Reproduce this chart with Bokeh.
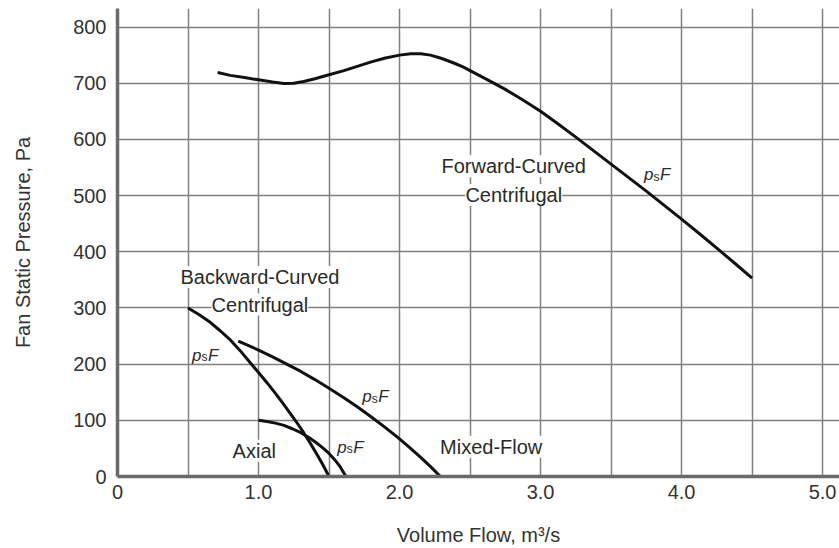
from bokeh.plotting import figure
from bokeh.models import Range1d, FixedTicker, Label, ColumnDataSource
from bokeh.core.properties import value
from bokeh.embed import file_html
from bokeh.resources import INLINE

# ---- data ----
fwd_x = [0.71, 0.8, 0.9, 1.0, 1.1, 1.18, 1.25, 1.32, 1.4, 1.5, 1.6, 1.7, 1.8, 1.9, 2.0, 2.08, 2.15,
         2.22, 2.3, 2.385, 2.45, 2.5, 2.625, 2.75, 2.875, 3.0, 3.125, 3.25, 3.375, 3.5, 3.625, 3.75,
         3.875, 4.0, 4.125, 4.25, 4.375, 4.5]
fwd_y = [719, 714, 710, 706, 702, 699.5, 700, 703, 708, 715, 722, 730, 738, 745, 750, 752.5, 752.5,
         750, 744, 736, 729, 722.5, 706, 689, 670, 650, 627.5, 604, 580, 556, 532, 508,
         483, 458, 432.5, 406.5, 380, 353]

bwd_x = [0.5, 0.58, 0.66, 0.73, 0.8, 0.87, 0.94, 1.0, 1.06, 1.12, 1.18, 1.24, 1.28, 1.32, 1.37, 1.42, 1.46, 1.5]
bwd_y = [300, 288, 274, 259, 243, 224, 203, 185, 167, 148, 128, 107, 93, 78, 58, 37, 19, 0]

mix_x = [0.856, 0.93, 1.0, 1.1, 1.2, 1.3, 1.4, 1.5, 1.6, 1.7, 1.8, 1.9, 2.0, 2.07, 2.15, 2.22, 2.29]
mix_y = [241, 233, 225, 213, 200, 187, 172.5, 157, 141, 124, 106, 87, 67, 52, 34, 17.5, 0]

axl_x = [1.0, 1.06, 1.12, 1.18, 1.24, 1.3, 1.36, 1.41, 1.46, 1.5, 1.54, 1.58, 1.62]
axl_y = [100, 98, 95, 91, 85, 78, 69, 60, 50, 41, 30, 17, 0]

x_ticks = [0, 1, 2, 3, 4, 5]
x_tick_labels = ["0", "1.0", "2.0", "3.0", "4.0", "5.0"]
y_ticks = [0, 100, 200, 300, 400, 500, 600, 700, 800]
x_grid = [0.5, 1.0, 1.5, 2.0, 2.5, 3.0, 3.5, 4.0, 4.5, 5.0]
y_grid = [100, 200, 300, 400, 500, 600, 700, 800]

# curve name labels: (text, x, y)
name_text = ["Forward-Curved", "Centrifugal", "Backward-Curved", "Centrifugal", "Axial", "Mixed-Flow"]
name_x = [2.81, 2.81, 1.01, 1.01, 0.97, 2.65]
name_y = [552, 501, 355, 306, 46, 53]

# p_sF labels: left edge and baseline
psf_x = [0.529, 1.735, 1.558, 3.733]
psf_y = [216, 142, 52, 537]

FONT = "Liberation Sans"
TXT = "#2a2a2a"

p = figure(width=839, height=548, output_backend="svg", toolbar_location=None,
           x_range=Range1d(0, 5.12), y_range=Range1d(0, 833),
           min_border_left=117, min_border_right=0, min_border_top=8, min_border_bottom=69)
p.outline_line_color = None
p.background_fill_color = "white"
p.border_fill_color = "white"

# grid
p.xgrid.ticker = FixedTicker(ticks=x_grid)
p.ygrid.ticker = FixedTicker(ticks=y_grid)
for g in (p.xgrid, p.ygrid):
    g.grid_line_color = "#808080"
    g.grid_line_width = 1.5

# axes
p.xaxis.ticker = FixedTicker(ticks=x_ticks)
p.xaxis.major_label_overrides = {t: l for t, l in zip(x_ticks, x_tick_labels)}
p.yaxis.ticker = FixedTicker(ticks=y_ticks)
for ax in (p.xaxis, p.yaxis):
    ax.axis_line_color = "#6a6a6a"
    ax.axis_line_width = 3.5
    ax.major_tick_line_color = None
    ax.minor_tick_line_color = None
    ax.major_tick_out = 0
    ax.major_tick_in = 0
    ax.major_label_text_font = FONT
    ax.major_label_text_font_size = "20px"
    ax.major_label_text_color = "#333333"
    ax.axis_label_text_font = FONT
    ax.axis_label_text_font_size = "20px"
    ax.axis_label_text_font_style = "normal"
    ax.axis_label_text_color = "#333333"
p.xaxis.major_label_standoff = 8
p.yaxis.major_label_standoff = 11
p.xaxis.axis_label = "Volume Flow, m³/s"
p.yaxis.axis_label = "Fan Static Pressure, Pa"
p.xaxis.axis_label_standoff = 22
p.yaxis.axis_label_standoff = 36

# curves
for xs, ys in ((fwd_x, fwd_y), (bwd_x, bwd_y), (mix_x, mix_y), (axl_x, axl_y)):
    p.line(xs, ys, line_color="#111111", line_width=3, line_join="round", line_cap="butt")

# names with white boxes
for t, x, y in zip(name_text, name_x, name_y):
    p.add_layout(Label(x=x, y=y, text=t, text_align="center", text_baseline="middle",
                       text_font=FONT, text_font_size="20px", text_color=TXT,
                       background_fill_color="white", background_fill_alpha=1.0))

# p_sF labels
src = ColumnDataSource(dict(x=psf_x, y=psf_y, p=["p"] * len(psf_x), s=["s"] * len(psf_x), f=["F"] * len(psf_x)))
p.text(x="x", y="y", text="p", source=src, text_font=value(FONT), text_font_size="17px",
       text_font_style="italic", text_color=TXT, text_baseline="alphabetic", text_align="left")
p.text(x="x", y="y", text="s", source=src, text_font=value(FONT), text_font_size="12px",
       text_color=TXT, text_baseline="alphabetic", text_align="left", x_offset=9.5, y_offset=2)
p.text(x="x", y="y", text="f", source=src, text_font=value(FONT), text_font_size="17px",
       text_font_style="italic", text_color=TXT, text_baseline="alphabetic", text_align="left", x_offset=16)

open("out.html", "w").write(file_html(p, INLINE))
